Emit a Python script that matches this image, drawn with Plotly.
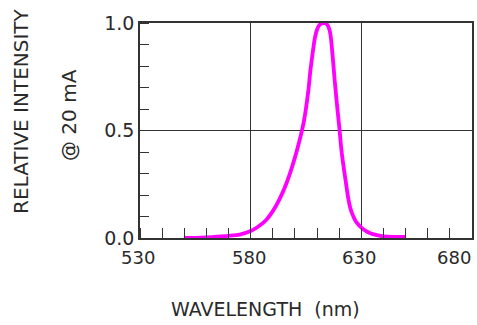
import plotly.graph_objects as go

wavelength = [550, 555, 560, 565, 570, 575, 580, 583, 587, 590, 593, 596, 599, 602, 604,
              606, 607, 608, 609, 610, 611, 612, 613, 614, 615, 616, 617, 618, 619, 620,
              621, 622, 623, 624, 625, 626, 627, 628, 630, 632, 634, 637, 640, 645, 650]
intensity = [0.000, 0.001, 0.003, 0.006, 0.010, 0.016, 0.033, 0.050, 0.084, 0.125, 0.180,
             0.250, 0.340, 0.450, 0.540, 0.680, 0.780, 0.860, 0.930, 0.970, 0.990, 0.998,
             1.000, 0.998, 0.985, 0.950, 0.850, 0.730, 0.620, 0.520, 0.410, 0.330, 0.260,
             0.190, 0.140, 0.110, 0.087, 0.070, 0.048, 0.033, 0.022, 0.013, 0.007, 0.005,
             0.005]

x_ticks = [530, 580, 630, 680]
x_tick_labels = ["530", "580", "630", "680"]
y_ticks = [0.0, 0.5, 1.0]
y_tick_labels = ["0.0", "0.5", "1.0"]

FONT = "DejaVu Sans"
AX = "#333333"
TXT = "#2a2a2a"

fig = go.Figure()
fig.add_trace(go.Scatter(x=wavelength, y=intensity, mode="lines",
                         line=dict(color="#FF00FF", width=3.8, shape="spline", smoothing=0.7),
                         hoverinfo="skip"))

# x tick labels placed at the axis tick values (last one kept inside the page)
x_label_annotations = [
    dict(text=lab, x=v, xref="x", y=0, yref="paper", yshift=-7,
         xanchor="right" if i == len(x_ticks) - 1 else "center",
         xshift=1 if i == len(x_ticks) - 1 else -2,
         yanchor="top", showarrow=False,
         font=dict(family=FONT, size=18, color=TXT))
    for i, (v, lab) in enumerate(zip(x_ticks, x_tick_labels))
]

fig.update_layout(
    width=477, height=325,
    margin=dict(l=140, r=5, t=23, b=87, autoexpand=False),
    paper_bgcolor="white", plot_bgcolor="white",
    showlegend=False,
    font=dict(family=FONT, size=19, color=TXT),
    xaxis=dict(range=[530, 680], tickvals=x_ticks, showticklabels=False,
               showgrid=True, gridcolor=AX, gridwidth=1, automargin=False,
               showline=True, linecolor=AX, linewidth=1.5, mirror=True,
               ticks="", zeroline=False,
               minor=dict(dtick=10, tick0=530, ticks="inside", ticklen=10,
                          tickcolor=AX, tickwidth=1, showgrid=False)),
    yaxis=dict(range=[0, 1.0], tickvals=y_ticks, ticktext=y_tick_labels,
               showgrid=True, gridcolor=AX, gridwidth=1, automargin=False,
               showline=True, linecolor=AX, linewidth=1.5, mirror=True,
               ticks="", zeroline=False, ticklabelstandoff=0,
               ticklabeloverflow="allow",
               minor=dict(dtick=0.1, tick0=0, ticks="inside", ticklen=9,
                          tickcolor=AX, tickwidth=1, showgrid=False)),
    annotations=x_label_annotations + [
        dict(text="RELATIVE INTENSITY", xref="paper", yref="paper",
             x=(21-140)/332, y=(238-111)/215, textangle=-90,
             showarrow=False, font=dict(family=FONT, size=20, color=TXT),
             xanchor="center", yanchor="middle"),
        dict(text="@ 20 mA", xref="paper", yref="paper",
             x=(69-140)/332, y=(238-115)/215, textangle=-90,
             showarrow=False, font=dict(family=FONT, size=20, color=TXT),
             xanchor="center", yanchor="middle"),
        dict(text="WAVELENGTH  (nm)", xref="paper", yref="paper",
             x=(265-140)/332, y=-(309-238)/215,
             showarrow=False, font=dict(family=FONT, size=19, color=TXT),
             xanchor="center", yanchor="middle"),
    ],
)

fig.write_html("out.html", config={"displayModeBar": False},
               post_script="document.body.style.margin='0';document.body.style.overflow='hidden';")
